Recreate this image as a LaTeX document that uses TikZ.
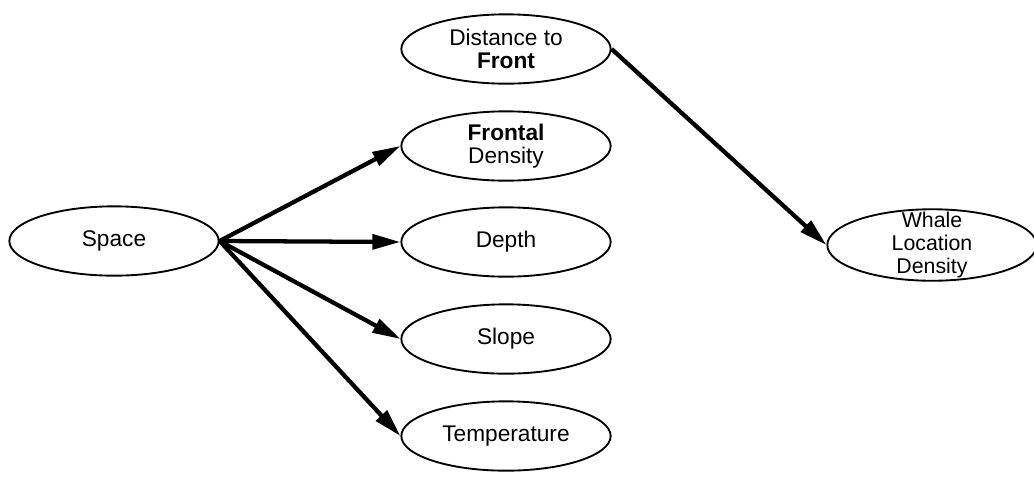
\documentclass[tikz,border=0pt]{standalone}
\usepackage{fontspec}
\setmainfont{Liberation Sans}
\usetikzlibrary{shapes.geometric,arrows.meta}

\tikzset{
    var/.style={draw, ellipse, line width=1.4pt, minimum width=157pt,
        minimum height=52pt, inner sep=0pt, align=center,
        font=\fontsize{17pt}{17pt}\selectfont},
    link/.style={line width=3.2pt, -{Triangle[length=21pt, width=11pt]}}
}

\begin{document}
\begin{tikzpicture}[x=0.75pt, y=-0.75pt]
        \useasboundingbox (0, 0) rectangle (1034, 476);
        \node[var] (space) at (114, 241) {Space};
        \node[var] (dist) at (506, 49) {Distance to\\\textbf{Front}};
        \node[var] (frontal) at (506, 146) {\textbf{Frontal}\\Density};
        \node[var] (depth) at (506, 242) {Depth};
        \node[var] (slope) at (506, 339) {Slope};
        \node[var] (temp) at (506, 436) {Temperature};
        \node[var, inner ysep=-6pt, font=\fontsize{16pt}{17.5pt}\selectfont]
            (whale) at (932, 245) {Whale\\Location\\Density};
        \draw[link] (space.east) -- (frontal.west);
        \draw[link] (space.east) -- (depth.west);
        \draw[link] (space.east) -- (slope.west);
        \draw[link] (space.east) -- (temp.west);
        \draw[link] (dist.east) -- (whale.west);
    \end{tikzpicture}
\end{document}
